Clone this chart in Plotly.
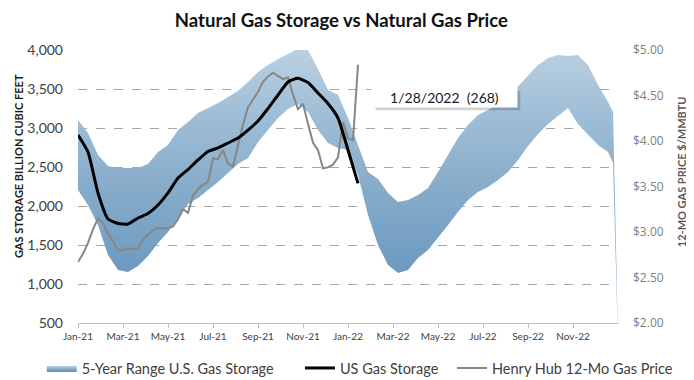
import pandas as pd
import plotly.graph_objects as go

START = "2021-01-01"
TICK_LABELS = ["Jan-21", "Mar-21", "May-21", "Jul-21", "Sep-21", "Nov-21",
               "Jan-22", "Mar-22", "May-22", "Jul-22", "Sep-22", "Nov-22"]

# 5-year range (Bcf), biweekly points, then last week and the trailing drop
BAND_UPPER = [3103, 2936, 2654, 2513, 2487, 2487, 2487, 2538, 2692, 2782, 2974, 3077,
              3192, 3256, 3321, 3397, 3474, 3590, 3718, 3808, 3885, 3949, 4020, 4000,
              3756, 3487, 3423, 3128, 2782, 2436, 2346, 2167, 2051, 2077, 2141, 2231,
              2436, 2654, 2872, 3038, 3167, 3231, 3308, 3397, 3538, 3667, 3808, 3897,
              3936, 3923, 3936, 3808, 3551, 3333, 3205, 300]
BAND_LOWER = [2205, 2013, 1756, 1372, 1179, 1154, 1231, 1359, 1526, 1667, 1846, 2026,
              2103, 2205, 2308, 2423, 2538, 2615, 2821, 2974, 3128, 3244, 3308, 3205,
              2974, 2808, 2744, 2718, 2397, 1885, 1500, 1244, 1141, 1179, 1333, 1436,
              1590, 1756, 1923, 2077, 2179, 2244, 2333, 2436, 2590, 2769, 2923, 3051,
              3154, 3256, 3051, 2910, 2782, 2692, 2551, 300]

# US gas storage (Bcf), biweekly, ending 1/28/2022
STORAGE = [2910, 2692, 2167, 1833, 1776, 1769, 1846, 1904, 2013, 2167, 2359, 2468,
           2590, 2699, 2744, 2808, 2872, 2974, 3090, 3250, 3423, 3590, 3637, 3583,
           3449, 3314, 3128, 2718, 2290]

# Henry Hub 12-month strip ($/MMBtu), weekly, ending 1/28/2022
PRICE = [2.67, 2.76, 2.88, 3.03, 3.15, 3.10, 2.98, 2.90, 2.80, 2.80, 2.82, 2.81,
         2.82, 2.92, 2.97, 3.02, 3.04, 3.04, 3.04, 3.06, 3.14, 3.25, 3.21, 3.40,
         3.47, 3.52, 3.55, 3.81, 3.80, 3.90, 3.75, 3.72, 3.96, 4.18, 4.37, 4.46,
         4.54, 4.65, 4.71, 4.75, 4.71, 4.68, 4.70, 4.51, 4.35, 4.41, 4.19, 3.98,
         3.90, 3.70, 3.71, 3.74, 3.82, 4.21, 4.03, 4.01, 4.84]

start = pd.Timestamp(START)
tick_dates = pd.date_range(start, periods=12, freq="63D")
x_end = start + pd.Timedelta(weeks=108)
band_dates = list(pd.date_range(start, periods=54, freq="14D")) + [
    start + pd.Timedelta(weeks=107), start + pd.Timedelta(weeks=108)]
storage_dates = pd.date_range(start, periods=len(STORAGE), freq="14D")
price_dates = pd.date_range(start, periods=len(PRICE), freq="7D")

FONT = "Lato, 'Open Sans', sans-serif"

fig = go.Figure()
fig.add_trace(go.Scatter(x=band_dates, y=BAND_LOWER, mode="lines",
                         line=dict(width=0, color="rgba(0,0,0,0)"),
                         showlegend=False, hoverinfo="skip", yaxis="y"))
fig.add_trace(go.Scatter(x=band_dates, y=BAND_UPPER, mode="lines", fill="tonexty",
                         line=dict(width=0, color="rgba(0,0,0,0)"),
                         fillgradient=dict(type="vertical", start=500, stop=4000,
                                           colorscale=[[0, "#5f8fba"], [0.2, "#6e9bc1"],
                                                       [0.5, "#87acca"], [0.75, "#9ebdd6"],
                                                       [1, "#b9d0e2"]]),
                         name="5-Year Range U.S. Gas Storage", legend="legend", yaxis="y"))
fig.add_trace(go.Scatter(x=price_dates, y=PRICE, mode="lines",
                         line=dict(color="#868686", width=2),
                         name="Henry Hub 12-Mo Gas Price", legend="legend3", yaxis="y2"))
fig.add_trace(go.Scatter(x=storage_dates, y=STORAGE, mode="lines",
                         line=dict(color="#000000", width=3, shape="spline", smoothing=0.5),
                         name="US Gas Storage", legend="legend2", yaxis="y3"))

legend_common = dict(orientation="h", xanchor="left", y=-0.165, yanchor="middle",
                     font=dict(size=14.5, color="#404040"), itemwidth=30,
                     bgcolor="rgba(0,0,0,0)")

# page body adds an 8px margin, so the figure is drawn 8px smaller and offset
fig.update_layout(
    width=686, height=372,
    margin=dict(l=70, r=76, t=42, b=57, autoexpand=False),
    paper_bgcolor="white", plot_bgcolor="white",
    font=dict(family=FONT, color="#404040"),
    title=dict(text="<b>Natural Gas Storage vs Natural Gas Price</b>",
               x=0.486, xanchor="center", y=0.966, yanchor="middle",
               font=dict(size=18.5, color="#111111", family=FONT)),
    xaxis=dict(type="date", range=[start, x_end], tickvals=tick_dates,
               ticktext=TICK_LABELS, showgrid=False, showline=True,
               linecolor="#bfbfbf", linewidth=1, ticks="outside", ticklen=4,
               tickcolor="#bfbfbf", tickfont=dict(size=10, color="#404040"),
               zeroline=False),
    yaxis=dict(range=[500, 4000], tickvals=[500, 1000, 1500, 2000, 2500, 3000, 3500, 4000],
               tickformat=",d", showgrid=True, gridcolor="#a6a6a6", griddash="dash",
               gridwidth=1, zeroline=False, showline=False,
               tickfont=dict(size=14, color="#404040"), ticklabelstandoff=14),
    yaxis2=dict(range=[2, 5], overlaying="y", side="right", showgrid=False,
                tickvals=[2, 2.5, 3, 3.5, 4, 4.5, 5], tickformat="$.2f",
                zeroline=False, showline=False,
                tickfont=dict(size=12, color="#808080", family="'Open Sans', sans-serif"),
                ticklabelstandoff=14),
    yaxis3=dict(range=[500, 4000], overlaying="y", visible=False),
    legend=dict(x=-0.067, **legend_common),
    legend2=dict(x=0.411, **legend_common),
    legend3=dict(x=0.6926, **legend_common),
    showlegend=True,
)

# axis titles
fig.add_annotation(text="<b>GAS STORAGE BILLION CUBIC FEET</b>", xref="paper", yref="paper",
                   x=-0.111, y=0.575, textangle=-90, showarrow=False,
                   xanchor="center", yanchor="middle",
                   font=dict(size=11, color="#1a1a1a"))
fig.add_annotation(text="<b>12-MO GAS PRICE $/MMBTU</b>", xref="paper", yref="paper",
                   x=1.117, y=0.553, textangle=-90, showarrow=False,
                   xanchor="center", yanchor="middle",
                   font=dict(size=11, color="#595959"))

# callout with shadow
fig.add_shape(type="rect", xref="paper", yref="paper", x0=0.551, x1=0.819, y0=0.779, y1=0.850,
              fillcolor="rgba(0,0,0,0.18)", line=dict(width=0), layer="above")
fig.add_annotation(text="1/28/2022\u00a0\u00a0(268)", xref="paper", yref="paper",
                   x=0.6787, y=0.826, xanchor="center", yanchor="middle",
                   showarrow=False, width=143, height=17,
                   bgcolor="white", borderpad=1,
                   font=dict(size=14, color="#1a1a1a"))

fig.write_html("out.html")
